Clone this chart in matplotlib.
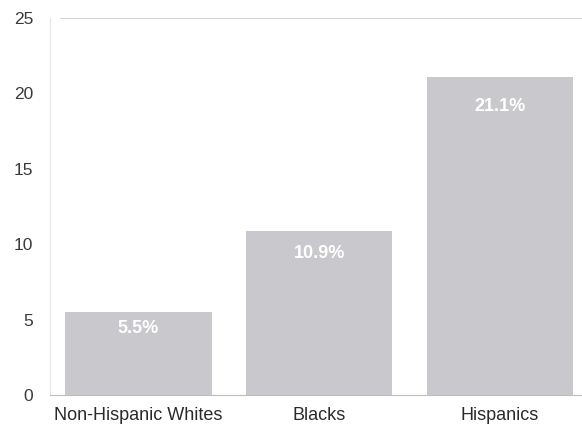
import matplotlib
matplotlib.use("Agg")
import matplotlib.pyplot as plt

plt.rcParams['font.family'] = ['Liberation Sans', 'DejaVu Sans']

categories = ["Non-Hispanic Whites", "Blacks", "Hispanics"]
values = [5.5, 10.9, 21.1]
labels = ["5.5%", "10.9%", "21.1%"]
yticks = [0, 5, 10, 15, 20, 25]

fig = plt.figure(figsize=(5.82, 4.26), dpi=100)
ax = fig.add_axes([50 / 582, 1 - 395 / 426, 1 - 50 / 582, (395 - 18) / 426])

x = list(range(len(categories)))
ax.bar(x, values, width=0.81, color="#c9c9cd", edgecolor="none", zorder=2)

# value labels sit inside the top of each bar
label_drop = [6, 10, 15]  # points below the bar top
for xi, v, lab, d in zip(x, values, labels, label_drop):
    ax.annotate(lab, xy=(xi, v), xytext=(0, -d), textcoords="offset points",
                ha="center", va="top", color="white",
                fontsize=13, fontweight="bold", zorder=3)

ax.set_xlim(-0.49, 2.455)
ax.set_ylim(0, 25)
ax.set_yticks(yticks)
ax.set_yticklabels([str(t) for t in yticks], fontsize=12.5, color="#3a3a3a")
ax.set_xticks(x)
ax.set_xticklabels(categories, fontsize=13, color="#2a2a2a")
ax.tick_params(axis="both", length=0)
ax.tick_params(axis="x", pad=9)
ax.tick_params(axis="y", pad=12)

ax.axhline(25, xmin=0.02, color="#d0d0d0", linewidth=1.2, zorder=1)
for side in ["top", "right"]:
    ax.spines[side].set_visible(False)
ax.spines["left"].set_color("#e6e6e6")
ax.spines["left"].set_linewidth(0.8)
ax.spines["bottom"].set_color("#bdbdbd")
ax.spines["bottom"].set_linewidth(0.8)

fig.savefig("out.png", dpi=100)
